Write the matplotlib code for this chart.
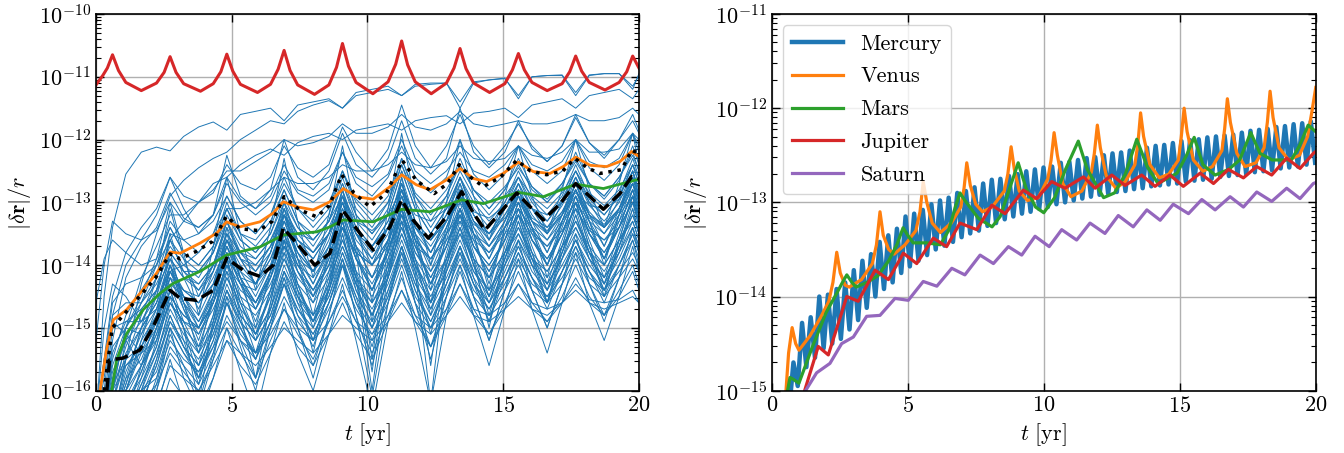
import numpy as np
import matplotlib
matplotlib.use('Agg')
import matplotlib.pyplot as plt

plt.rcParams['font.family'] = 'serif'
plt.rcParams['font.serif'] = ['cmr10']
plt.rcParams['mathtext.fontset'] = 'cm'
plt.rcParams['axes.formatter.use_mathtext'] = True
plt.rcParams['axes.unicode_minus'] = True

# ---- left panel: log10 |dr|/r ----
# common sampling times of the thin blue runs (peaks, sides, troughs)
grid_t = [0.0, 0.3, 0.61, 1.1, 1.67, 2.23, 2.73, 3.23, 3.78, 4.32, 4.82, 5.32,
          5.88, 6.43, 6.93, 7.43, 8.0, 8.58, 9.08, 9.58, 10.17, 10.76, 11.26,
          11.76, 12.33, 12.91, 13.41, 13.91, 14.48, 15.06, 15.56, 16.06, 16.62,
          17.17, 17.67, 18.17, 18.72, 19.27, 19.77, 20.0]

blue_runs = [
    [-16.5, -15.5, -14.5, -13.8, -13.4, -13.1, -12.6, -12.9, -13.0, -12.85, -12.4, -12.7, -12.8, -12.6, -12.1, -12.45, -12.6, -12.4, -11.8, -12.2, -12.5, -12.15, -11.45, -12.1, -12.45, -12.1, -11.6, -12.1, -12.4, -12.1, -11.75, -12.1, -12.35, -12.1, -11.65, -12.05, -12.3, -12.0, -11.6, -11.85],
    [-15.2, -14.0, -13.3, -13.5, -13.6, -13.45, -13.0, -13.3, -13.4, -13.2, -12.6, -12.95, -13.1, -12.9, -12.4, -12.8, -12.9, -12.7, -12.2, -12.6, -12.75, -12.55, -12.0, -12.5, -12.7, -12.5, -12.2, -12.5, -12.6, -12.4, -12.1, -12.4, -12.5, -12.35, -12.0, -12.35, -12.45, -12.3, -11.9, -12.1],
    [-16.5, -16.5, -15.2, -14.2, -13.7, -13.4, -12.85, -13.25, -13.4, -13.2, -12.7, -13.0, -13.2, -13.0, -12.5, -12.85, -13.0, -12.8, -12.2, -12.7, -12.9, -12.6, -12.1, -12.6, -12.85, -12.6, -12.0, -12.55, -12.8, -12.55, -12.1, -12.5, -12.7, -12.5, -12.0, -12.45, -12.65, -12.4, -11.9, -12.2],
    [-16.5, -16.0, -14.8, -14.0, -13.6, -13.2, -12.6, -13.1, -13.5, -13.3, -12.9, -13.3, -13.5, -13.2, -12.6, -13.1, -13.4, -13.1, -12.5, -13.0, -13.3, -13.0, -12.4, -12.9, -13.2, -12.9, -12.3, -12.8, -13.1, -12.8, -12.3, -12.75, -13.0, -12.75, -12.2, -12.7, -12.95, -12.65, -12.1, -12.4],
    [-16.5, -16.5, -16.0, -15.0, -14.2, -13.7, -13.2, -13.2, -13.0, -12.8, -12.5, -12.5, -12.35, -12.2, -12.0, -12.1, -12.05, -11.95, -11.75, -11.9, -11.9, -11.8, -11.6, -11.8, -11.85, -11.75, -11.55, -11.75, -11.8, -11.75, -11.7, -11.75, -11.75, -11.7, -11.6, -11.7, -11.7, -11.65, -11.5, -11.6],
    [-16.5, -16.5, -16.5, -15.5, -14.8, -14.2, -13.5, -13.6, -13.5, -13.2, -12.25, -12.9, -13.1, -12.8, -12.0, -12.6, -12.8, -12.5, -11.9, -12.4, -12.6, -12.3, -11.7, -12.3, -12.55, -12.3, -11.5, -12.2, -12.45, -12.2, -11.7, -12.15, -12.35, -12.1, -11.6, -12.05, -12.25, -12.0, -11.7, -11.9],
    [-16.5, -16.5, -15.5, -14.8, -14.4, -14.0, -13.4, -13.8, -14.0, -13.7, -13.0, -13.5, -13.7, -13.4, -12.8, -13.3, -13.6, -13.3, -12.6, -13.2, -13.5, -13.1, -12.4, -13.0, -13.4, -13.0, -12.5, -12.9, -13.2, -12.9, -12.6, -12.9, -13.1, -12.85, -12.5, -12.85, -13.05, -12.8, -12.4, -12.6],
    [-16.5, -16.2, -15.0, -14.9, -14.9, -14.4, -13.6, -14.1, -14.4, -14.0, -13.3, -13.8, -14.1, -13.7, -13.0, -13.6, -13.9, -13.5, -12.8, -13.4, -13.7, -13.3, -12.7, -13.3, -13.6, -13.2, -12.6, -13.2, -13.5, -13.1, -12.7, -13.1, -13.3, -13.0, -12.6, -13.0, -13.2, -12.9, -12.5, -12.8],
    [-16.5, -16.5, -15.8, -15.2, -15.6, -14.8, -13.8, -14.6, -15.4, -14.5, -13.4, -14.2, -15.0, -14.1, -13.1, -13.9, -14.8, -13.8, -12.8, -13.8, -15.5, -13.7, -12.6, -13.6, -14.6, -13.5, -12.7, -13.5, -14.4, -13.4, -12.8, -13.4, -14.2, -13.3, -12.7, -13.3, -14.0, -13.2, -12.5, -12.9],
    [-16.5, -16.5, -16.2, -15.4, -15.0, -14.6, -14.0, -14.4, -14.6, -14.3, -13.6, -14.0, -14.3, -13.9, -13.3, -13.8, -14.1, -13.7, -13.0, -13.6, -13.9, -13.5, -12.9, -13.5, -13.8, -13.4, -12.9, -13.4, -13.7, -13.3, -12.9, -13.3, -13.5, -13.2, -12.8, -13.2, -13.4, -13.1, -12.7, -13.0],
    [-16.5, -16.5, -16.5, -15.8, -15.5, -14.9, -14.2, -14.7, -15.1, -14.6, -13.8, -14.3, -14.7, -14.2, -13.5, -14.1, -14.5, -14.0, -13.2, -13.9, -14.4, -13.8, -13.0, -13.7, -14.2, -13.7, -13.1, -13.7, -14.1, -13.6, -13.0, -13.6, -14.0, -13.5, -12.9, -13.5, -13.9, -13.4, -12.8, -13.2],
    [-16.5, -16.5, -16.5, -16.0, -15.6, -15.0, -14.4, -15.0, -16.2, -14.9, -13.9, -14.8, -15.8, -14.6, -13.6, -14.4, -15.4, -14.3, -13.3, -14.2, -16.0, -14.1, -13.1, -14.0, -15.6, -13.9, -13.2, -13.9, -15.0, -13.8, -13.2, -13.8, -14.6, -13.7, -13.0, -13.7, -14.5, -13.6, -12.9, -13.4],
    [-16.5, -16.5, -16.5, -16.5, -16.2, -15.6, -14.8, -15.3, -15.6, -15.1, -14.4, -14.9, -15.2, -14.8, -14.1, -14.6, -14.9, -14.5, -13.8, -14.4, -14.8, -14.3, -13.7, -14.3, -14.7, -14.2, -13.7, -14.2, -14.6, -14.1, -13.6, -14.1, -14.4, -14.0, -13.6, -14.0, -14.3, -13.9, -13.4, -13.7],
    [-16.5, -16.5, -16.5, -16.5, -16.0, -15.8, -15.2, -15.5, -15.7, -15.3, -14.9, -15.2, -15.4, -15.1, -14.7, -15.0, -15.2, -14.9, -14.5, -14.9, -15.1, -14.8, -14.4, -14.8, -15.0, -14.7, -14.3, -14.7, -14.8, -14.6, -14.3, -14.6, -14.7, -14.6, -14.3, -14.55, -14.6, -14.55, -14.4, -14.6],
    [-16.5, -16.5, -16.0, -15.3, -14.7, -14.4, -13.9, -14.2, -14.3, -14.0, -13.5, -13.8, -13.9, -13.6, -13.2, -13.5, -13.6, -13.3, -12.9, -13.3, -13.45, -13.2, -12.8, -13.2, -13.3, -13.1, -12.9, -13.15, -13.25, -13.05, -12.9, -13.1, -13.2, -13.0, -12.85, -13.05, -13.1, -12.95, -12.7, -12.9],
    [-16.5, -16.5, -16.5, -15.6, -15.3, -14.7, -14.0, -14.6, -15.2, -14.5, -13.7, -14.3, -14.9, -14.2, -13.4, -14.1, -14.6, -13.9, -13.1, -13.8, -14.4, -13.7, -12.9, -13.6, -14.3, -13.6, -12.9, -13.6, -14.2, -13.5, -12.9, -13.5, -14.0, -13.4, -12.8, -13.4, -13.9, -13.3, -12.7, -13.1],
    [-16.5, -16.5, -16.5, -16.5, -16.5, -15.9, -15.0, -15.8, -16.3, -15.5, -14.5, -15.3, -16.0, -15.0, -14.2, -15.0, -15.8, -14.8, -13.9, -14.8, -15.6, -14.6, -13.7, -14.6, -15.5, -14.5, -13.7, -14.5, -15.2, -14.4, -13.6, -14.4, -15.0, -14.3, -13.5, -14.3, -14.8, -14.2, -13.4, -13.8],
    [-16.5, -16.5, -15.6, -15.0, -14.6, -14.2, -13.7, -14.0, -14.2, -13.8, -13.2, -13.6, -13.8, -13.5, -13.0, -13.4, -13.6, -13.3, -12.7, -13.2, -13.5, -13.2, -12.5, -13.1, -13.5, -13.1, -12.6, -13.0, -13.3, -13.0, -12.5, -12.95, -13.2, -12.9, -12.4, -12.9, -13.1, -12.85, -12.3, -12.6],
    [-16.5, -16.5, -16.5, -15.8, -15.0, -14.2, -13.1, -13.9, -14.5, -14.0, -13.3, -13.9, -14.3, -13.8, -13.1, -13.7, -14.1, -13.6, -12.9, -13.5, -13.9, -13.4, -12.8, -13.4, -13.8, -13.3, -12.8, -13.3, -13.7, -13.3, -12.8, -13.3, -13.6, -13.2, -12.7, -13.2, -13.5, -13.1, -12.6, -12.9],
    [-16.5, -16.5, -16.5, -16.5, -15.6, -15.1, -14.6, -15.0, -15.3, -14.9, -14.2, -14.7, -15.0, -14.5, -13.9, -14.4, -14.8, -14.3, -13.6, -14.2, -14.6, -14.1, -13.4, -14.0, -14.5, -14.0, -13.4, -14.0, -14.4, -13.9, -13.4, -13.9, -14.2, -13.8, -13.3, -13.8, -14.1, -13.7, -13.2, -13.5],
    [-16.5, -15.8, -14.8, -14.6, -14.6, -14.3, -13.8, -14.1, -14.1, -13.8, -13.1, -13.5, -13.6, -13.3, -12.8, -13.3, -13.5, -13.2, -12.5, -13.1, -13.4, -13.0, -12.3, -12.9, -13.3, -12.9, -12.4, -12.8, -13.1, -12.8, -12.4, -12.8, -13.0, -12.7, -12.3, -12.7, -12.9, -12.6, -12.2, -12.5],
    [-16.5, -16.5, -16.5, -16.2, -15.8, -15.3, -14.5, -15.2, -15.9, -15.0, -14.1, -14.9, -15.5, -14.7, -13.8, -14.6, -15.2, -14.4, -13.5, -14.4, -15.0, -14.2, -13.3, -14.2, -15.1, -14.1, -13.4, -14.2, -14.9, -14.0, -13.3, -14.0, -14.6, -13.9, -13.2, -13.9, -14.4, -13.8, -13.1, -13.5],
    [-14.6, -13.9, -13.6, -13.8, -14.0, -13.9, -13.4, -13.8, -14.0, -13.7, -13.1, -13.6, -13.8, -13.5, -12.9, -13.4, -13.7, -13.3, -12.7, -13.3, -13.6, -13.2, -12.5, -13.1, -13.5, -13.1, -12.6, -13.1, -13.4, -13.0, -12.6, -13.0, -13.3, -12.95, -12.5, -12.95, -13.2, -12.9, -12.4, -12.7],
    [-16.5, -15.0, -14.3, -14.5, -14.9, -14.7, -14.2, -14.6, -14.9, -14.5, -13.8, -14.3, -14.6, -14.2, -13.5, -14.0, -14.4, -14.0, -13.3, -13.9, -14.3, -13.8, -13.1, -13.8, -14.2, -13.7, -13.1, -13.7, -14.0, -13.6, -13.0, -13.6, -13.9, -13.5, -12.9, -13.5, -13.8, -13.4, -12.8, -13.1],
    [-16.5, -16.5, -16.5, -16.5, -16.5, -16.3, -15.5, -16.2, -16.5, -15.8, -15.0, -15.7, -16.4, -15.4, -14.6, -15.4, -16.0, -15.1, -14.3, -15.2, -16.3, -14.9, -14.1, -15.0, -16.2, -14.8, -14.0, -14.8, -15.6, -14.7, -13.9, -14.7, -15.4, -14.6, -13.8, -14.6, -15.2, -14.5, -13.7, -14.1],
    [-16.5, -16.5, -16.5, -15.9, -15.2, -14.8, -14.3, -14.5, -14.6, -14.3, -13.9, -14.2, -14.3, -14.0, -13.6, -13.9, -14.1, -13.8, -13.4, -13.8, -14.0, -13.7, -13.3, -13.7, -13.9, -13.6, -13.3, -13.6, -13.8, -13.5, -13.2, -13.5, -13.7, -13.45, -13.1, -13.45, -13.6, -13.4, -13.0, -13.2],
    [-16.5, -16.5, -16.5, -16.0, -15.4, -14.8, -14.1, -14.0, -13.8, -13.5, -13.1, -13.1, -13.0, -12.8, -12.6, -12.7, -12.7, -12.6, -12.4, -12.5, -12.5, -12.4, -12.2, -12.4, -12.45, -12.35, -12.1, -12.3, -12.35, -12.3, -12.1, -12.25, -12.3, -12.2, -12.0, -12.2, -12.2, -12.15, -11.9, -12.0],
    [-16.5, -16.5, -16.5, -16.5, -16.3, -15.5, -14.6, -14.9, -15.0, -14.6, -14.0, -14.3, -14.4, -14.0, -13.7, -14.0, -14.2, -13.8, -13.4, -13.8, -14.0, -13.6, -13.2, -13.6, -13.9, -13.5, -13.2, -13.5, -13.7, -13.4, -13.1, -13.4, -13.6, -13.3, -13.0, -13.3, -13.5, -13.2, -12.9, -13.1],
    [-16.5, -16.5, -16.5, -16.5, -16.5, -16.2, -15.6, -15.8, -16.0, -15.6, -15.2, -15.4, -15.6, -15.3, -15.0, -15.2, -15.4, -15.1, -14.8, -15.0, -15.2, -14.9, -14.6, -14.9, -15.1, -14.8, -14.5, -14.8, -14.9, -14.7, -14.5, -14.7, -14.8, -14.6, -14.4, -14.6, -14.7, -14.6, -14.5, -14.6],
    [-16.5, -16.5, -16.5, -16.3, -16.0, -15.4, -14.7, -15.1, -15.4, -15.0, -14.3, -14.8, -15.1, -14.7, -14.0, -14.5, -14.9, -14.4, -13.7, -14.3, -14.7, -14.2, -13.5, -14.1, -14.6, -14.1, -13.5, -14.1, -14.5, -14.0, -13.5, -14.0, -14.3, -13.9, -13.4, -13.9, -14.2, -13.8, -13.3, -13.6],
    [-16.5, -16.5, -16.0, -15.0, -14.5, -13.9, -13.0, -13.8, -14.8, -13.7, -12.6, -13.5, -14.4, -13.4, -12.3, -13.3, -14.2, -13.2, -12.1, -13.2, -14.6, -13.1, -11.9, -13.0, -14.0, -13.0, -12.0, -12.9, -13.6, -12.9, -12.1, -12.9, -13.5, -12.8, -12.0, -12.8, -13.4, -12.7, -11.9, -12.4],
    [-16.5, -16.5, -16.5, -16.5, -16.0, -15.7, -15.0, -15.4, -15.7, -15.2, -14.6, -15.1, -15.4, -14.9, -14.3, -14.8, -15.1, -14.6, -14.0, -14.6, -15.0, -14.5, -13.9, -14.5, -14.9, -14.4, -13.9, -14.4, -14.7, -14.3, -13.9, -14.3, -14.5, -14.2, -13.8, -14.2, -14.4, -14.1, -13.8, -14.0],
    [-16.5, -16.5, -16.5, -16.0, -15.2, -14.4, -13.6, -13.3, -13.0, -12.7, -12.6, -12.4, -12.25, -12.15, -12.25, -12.05, -11.95, -11.9, -12.0, -11.85, -11.8, -11.75, -11.85, -11.7, -11.65, -11.62, -11.75, -11.58, -11.55, -11.5, -11.65, -11.45, -11.4, -11.35, -11.5, -11.3, -11.25, -11.2, -11.35, -11.2],
    [-16.5, -16.5, -16.5, -15.5, -14.3, -13.5, -12.9, -12.65, -12.45, -12.3, -12.2, -12.0, -11.85, -11.7, -11.75, -11.55, -11.45, -11.38, -11.5, -11.3, -11.25, -11.2, -11.3, -11.15, -11.12, -11.1, -11.4, -11.08, -11.05, -11.03, -11.3, -11.0, -10.98, -10.97, -11.25, -10.97, -10.95, -10.95, -11.15, -10.98],
    [-16.5, -14.5, -13.4, -12.55, -12.2, -12.12, -12.18, -11.95, -11.8, -11.72, -11.85, -11.6, -11.55, -11.5, -11.7, -11.45, -11.4, -11.35, -11.5, -11.25, -11.2, -11.15, -11.3, -11.12, -11.1, -11.1, -11.5, -11.1, -11.05, -11.02, -11.35, -11.0, -10.98, -10.98, -11.3, -10.98, -10.95, -10.95, -11.2, -10.95],
    [-16.5, -16.5, -15.9, -15.5, -15.3, -14.9, -14.1, -14.5, -14.8, -14.3, -13.6, -14.1, -14.5, -14.0, -13.2, -13.8, -14.3, -13.7, -13.0, -13.7, -14.2, -13.6, -12.8, -13.5, -14.1, -13.5, -12.8, -13.4, -13.9, -13.3, -12.7, -13.3, -13.8, -13.2, -12.6, -13.2, -13.7, -13.1, -12.5, -12.9],
    [-16.5, -16.5, -16.5, -16.2, -15.7, -15.0, -14.2, -14.4, -14.5, -14.1, -13.6, -13.9, -14.0, -13.7, -13.3, -13.6, -13.8, -13.5, -13.1, -13.5, -13.7, -13.4, -12.9, -13.4, -13.6, -13.3, -12.9, -13.3, -13.5, -13.2, -12.9, -13.25, -13.4, -13.15, -12.8, -13.2, -13.35, -13.1, -12.7, -12.95],
    [-16.5, -16.5, -16.5, -16.5, -16.0, -15.2, -14.4, -15.0, -15.6, -14.8, -13.9, -14.6, -15.2, -14.4, -13.6, -14.3, -14.9, -14.1, -13.3, -14.1, -15.7, -13.9, -13.1, -13.9, -14.8, -13.8, -13.1, -13.8, -14.5, -13.7, -13.1, -13.7, -14.3, -13.6, -13.0, -13.6, -14.2, -13.5, -12.9, -13.3],
    [-16.5, -15.5, -14.9, -15.1, -15.4, -15.0, -14.5, -14.8, -15.0, -14.6, -14.1, -14.5, -14.7, -14.3, -13.8, -14.2, -14.5, -14.1, -13.6, -14.1, -14.4, -13.9, -13.4, -13.9, -14.3, -13.9, -13.4, -13.9, -14.2, -13.8, -13.4, -13.8, -14.1, -13.7, -13.3, -13.7, -14.0, -13.6, -13.2, -13.5],
    [-16.5, -16.5, -16.5, -16.5, -16.5, -16.0, -15.3, -15.6, -15.9, -15.4, -14.8, -15.2, -15.5, -15.0, -14.5, -14.9, -15.2, -14.7, -14.2, -14.7, -15.1, -14.6, -14.0, -14.6, -15.0, -14.5, -14.0, -14.5, -14.8, -14.4, -14.0, -14.4, -14.6, -14.3, -13.9, -14.3, -14.5, -14.2, -13.9, -14.1],
    [-16.5, -16.5, -16.2, -15.2, -14.6, -14.0, -13.3, -13.6, -13.8, -13.5, -12.9, -13.3, -13.5, -13.2, -12.7, -13.1, -13.3, -13.0, -12.5, -12.95, -13.2, -12.9, -12.3, -12.85, -13.1, -12.8, -12.4, -12.8, -13.0, -12.75, -12.45, -12.75, -12.95, -12.7, -12.35, -12.7, -12.9, -12.6, -12.25, -12.5],
    [-16.5, -16.5, -15.4, -14.9, -14.7, -14.4, -13.9, -14.2, -14.4, -14.1, -13.5, -13.9, -14.1, -13.8, -13.2, -13.7, -13.9, -13.5, -13.0, -13.5, -13.8, -13.4, -12.8, -13.4, -13.7, -13.3, -12.8, -13.3, -13.6, -13.2, -12.8, -13.2, -13.5, -13.15, -12.7, -13.15, -13.4, -13.1, -12.6, -12.9],
    [-16.5, -16.5, -16.5, -16.1, -15.6, -15.2, -14.6, -14.9, -15.1, -14.7, -14.2, -14.6, -14.8, -14.4, -13.9, -14.3, -14.6, -14.2, -13.7, -14.2, -14.5, -14.0, -13.5, -14.0, -14.4, -13.9, -13.5, -13.9, -14.2, -13.8, -13.5, -13.9, -14.1, -13.7, -13.4, -13.8, -14.0, -13.6, -13.3, -13.6],
    [-16.5, -16.5, -16.5, -15.9, -15.0, -14.6, -13.9, -14.5, -15.0, -14.4, -13.5, -14.2, -14.7, -14.1, -13.2, -13.9, -14.5, -13.8, -12.9, -13.7, -14.9, -13.6, -12.7, -13.5, -14.4, -13.4, -12.8, -13.5, -14.3, -13.4, -12.9, -13.4, -14.0, -13.3, -12.8, -13.3, -13.9, -13.2, -12.6, -13.0],
    [-16.5, -16.5, -16.5, -16.5, -16.1, -15.5, -14.9, -15.2, -15.5, -15.0, -14.4, -14.8, -15.1, -14.7, -14.1, -14.5, -14.8, -14.4, -13.8, -14.3, -14.6, -14.2, -13.6, -14.2, -14.6, -14.1, -13.6, -14.1, -14.4, -14.0, -13.6, -14.0, -14.3, -13.9, -13.5, -13.9, -14.2, -13.8, -13.4, -13.7],
    [-16.5, -16.3, -15.3, -15.0, -15.1, -14.7, -14.0, -14.5, -14.9, -14.4, -13.7, -14.2, -14.6, -14.1, -13.4, -14.0, -14.4, -13.9, -13.2, -13.9, -14.4, -13.8, -13.0, -13.7, -14.3, -13.7, -13.0, -13.7, -14.1, -13.6, -13.0, -13.6, -14.0, -13.5, -12.9, -13.5, -13.9, -13.4, -12.8, -13.2],
    [-16.5, -16.5, -16.5, -16.5, -15.9, -15.3, -14.5, -14.8, -15.0, -14.6, -14.0, -14.4, -14.6, -14.2, -13.7, -14.1, -14.4, -14.0, -13.4, -13.9, -14.2, -13.8, -13.2, -13.8, -14.1, -13.7, -13.2, -13.7, -14.0, -13.6, -13.2, -13.6, -13.9, -13.5, -13.1, -13.5, -13.8, -13.4, -13.0, -13.3],
    [-16.5, -16.5, -16.0, -15.6, -15.4, -15.2, -14.4, -15.0, -15.8, -14.9, -14.0, -14.7, -15.4, -14.6, -13.7, -14.5, -15.2, -14.4, -13.5, -14.3, -15.0, -14.2, -13.3, -14.1, -16.2, -14.0, -13.3, -14.0, -14.8, -13.9, -13.3, -13.9, -14.6, -13.8, -13.2, -13.8, -14.4, -13.7, -13.1, -13.5],
    [-16.5, -16.5, -16.5, -16.4, -15.9, -15.4, -14.8, -15.3, -15.8, -15.2, -14.4, -15.0, -15.5, -14.9, -14.1, -14.8, -15.3, -14.6, -13.9, -14.6, -15.2, -14.5, -13.7, -14.4, -15.0, -14.3, -13.7, -14.3, -14.9, -14.2, -13.7, -14.2, -14.7, -14.1, -13.6, -14.1, -14.6, -14.0, -13.5, -13.8],
    [-16.5, -16.5, -16.5, -15.7, -15.1, -14.5, -13.5, -14.2, -14.7, -14.1, -13.3, -13.9, -14.3, -13.8, -13.0, -13.7, -14.1, -13.5, -12.8, -13.5, -14.0, -13.4, -12.6, -13.3, -13.8, -13.3, -12.6, -13.2, -13.6, -13.1, -12.6, -13.1, -13.5, -13.0, -12.5, -13.0, -13.4, -12.95, -12.4, -12.7],
    [-16.5, -16.5, -16.5, -16.5, -16.5, -15.8, -15.0, -15.4, -15.8, -15.3, -14.6, -15.0, -15.4, -14.9, -14.3, -14.7, -15.1, -14.6, -14.0, -14.5, -15.3, -14.4, -13.8, -14.4, -14.9, -14.3, -13.8, -14.3, -14.7, -14.2, -13.8, -14.2, -14.6, -14.1, -13.7, -14.1, -14.5, -14.0, -13.6, -13.9],
    [-16.5, -15.6, -14.6, -14.3, -14.2, -14.0, -13.6, -13.9, -14.1, -13.8, -13.3, -13.7, -13.9, -13.6, -13.1, -13.5, -13.8, -13.4, -12.9, -13.4, -13.7, -13.3, -12.7, -13.3, -13.6, -13.2, -12.7, -13.2, -13.5, -13.1, -12.7, -13.1, -13.4, -13.05, -12.6, -13.05, -13.3, -13.0, -12.5, -12.8],
    [-16.5, -16.5, -16.5, -16.5, -16.2, -15.9, -15.4, -15.7, -16.0, -15.5, -15.0, -15.4, -15.8, -15.2, -14.7, -15.1, -15.5, -14.9, -14.4, -14.9, -15.4, -14.8, -14.2, -14.8, -15.3, -14.7, -14.1, -14.7, -15.1, -14.6, -14.1, -14.6, -14.9, -14.5, -14.0, -14.5, -14.8, -14.4, -14.0, -14.3],
    [-16.5, -16.5, -16.5, -16.0, -15.3, -14.8, -14.1, -14.6, -15.0, -14.5, -13.6, -14.2, -14.6, -14.1, -13.3, -13.9, -14.3, -13.8, -13.0, -13.7, -14.2, -13.6, -12.8, -13.5, -14.0, -13.4, -12.9, -13.5, -13.9, -13.4, -12.9, -13.4, -13.8, -13.3, -12.8, -13.3, -13.7, -13.2, -12.7, -13.0],
    [-16.5, -16.5, -16.5, -16.5, -16.5, -16.0, -15.1, -15.6, -16.2, -15.4, -14.6, -15.2, -15.8, -15.0, -14.3, -15.0, -15.6, -14.8, -14.0, -14.8, -16.1, -14.6, -13.8, -14.6, -15.3, -14.5, -13.8, -14.5, -15.2, -14.4, -13.8, -14.4, -15.0, -14.3, -13.7, -14.3, -14.9, -14.2, -13.6, -14.0],
    [-16.5, -16.5, -16.2, -15.5, -15.0, -14.6, -14.1, -14.4, -14.6, -14.2, -13.7, -14.1, -14.3, -13.9, -13.4, -13.8, -14.1, -13.7, -13.2, -13.7, -14.0, -13.6, -13.1, -13.6, -13.9, -13.5, -13.1, -13.5, -13.8, -13.4, -13.1, -13.45, -13.7, -13.35, -13.0, -13.4, -13.6, -13.3, -12.9, -13.2],
    [-16.5, -16.5, -16.5, -16.5, -15.8, -15.0, -14.0, -14.7, -15.3, -14.6, -13.8, -14.5, -15.1, -14.4, -13.5, -14.3, -15.0, -14.2, -13.3, -14.1, -14.8, -14.0, -13.1, -13.9, -14.6, -13.9, -13.1, -13.9, -14.5, -13.8, -13.1, -13.8, -14.4, -13.7, -13.0, -13.7, -14.3, -13.6, -12.9, -13.3],
    [-16.5, -16.5, -16.5, -16.5, -16.5, -16.5, -15.8, -16.1, -16.3, -15.8, -15.2, -15.6, -15.9, -15.4, -14.9, -15.3, -15.6, -15.1, -14.6, -15.1, -15.5, -14.9, -14.4, -14.9, -15.3, -14.8, -14.3, -14.8, -15.1, -14.7, -14.3, -14.7, -14.9, -14.6, -14.2, -14.6, -14.8, -14.5, -14.1, -14.4],
    [-16.5, -16.5, -15.7, -15.2, -14.9, -14.5, -13.8, -14.1, -14.3, -14.0, -13.4, -13.8, -14.0, -13.7, -13.2, -13.6, -13.8, -13.5, -13.0, -13.5, -13.7, -13.4, -12.9, -13.4, -13.6, -13.3, -13.0, -13.35, -13.5, -13.25, -13.0, -13.3, -13.45, -13.2, -12.9, -13.25, -13.4, -13.15, -12.8, -13.05],
    [-16.5, -16.5, -16.5, -16.5, -16.2, -15.6, -14.9, -15.3, -15.6, -15.1, -14.5, -14.9, -15.2, -14.8, -14.2, -14.7, -15.0, -14.5, -13.9, -14.5, -14.9, -14.4, -13.7, -14.3, -14.8, -14.3, -13.7, -14.3, -14.6, -14.2, -13.7, -14.2, -14.5, -14.1, -13.6, -14.1, -14.4, -14.0, -13.5, -13.8],
    [-16.5, -16.5, -16.5, -16.3, -15.7, -15.1, -14.3, -14.9, -15.4, -14.8, -13.9, -14.6, -15.1, -14.5, -13.6, -14.4, -14.9, -14.3, -13.4, -14.2, -14.8, -14.1, -13.2, -14.0, -14.7, -14.0, -13.2, -14.0, -14.6, -13.9, -13.2, -13.9, -14.4, -13.8, -13.1, -13.8, -14.3, -13.7, -13.0, -13.4],
]

red_t = [0.0, 0.25, 0.42, 0.61, 0.83, 1.1, 1.67, 2.23, 2.51, 2.73, 2.95, 3.23, 3.85,
         4.32, 4.6, 4.82, 5.04, 5.32, 5.95, 6.43, 6.71, 6.93, 7.15, 7.43, 8.05, 8.58,
         8.86, 9.08, 9.3, 9.58, 10.2, 10.76, 11.04, 11.26, 11.48, 11.76, 12.35, 12.91,
         13.19, 13.41, 13.63, 13.91, 14.5, 15.06, 15.34, 15.56, 15.78, 16.06, 16.62,
         17.17, 17.45, 17.67, 17.89, 18.17, 18.75, 19.27, 19.55, 19.77, 20.0]
red_v = [-11.13, -10.98, -10.86, -10.65, -10.9, -11.09, -11.22, -11.1, -10.93, -10.68,
         -10.93, -11.11, -11.23, -11.11, -10.92, -10.64, -10.91, -11.12, -11.25, -11.12,
         -10.88, -10.58, -10.9, -11.13, -11.28, -11.13, -10.85, -10.47, -10.83, -11.09,
         -11.27, -11.08, -10.8, -10.43, -10.81, -11.08, -11.27, -11.1, -10.86, -10.55,
         -10.87, -11.1, -11.25, -11.11, -10.89, -10.63, -10.89, -11.09, -11.22, -11.11,
         -10.92, -10.67, -10.91, -11.09, -11.21, -11.09, -10.92, -10.67, -10.86]

orange_t = [0.15, 0.39, 0.64, 1.13, 1.62, 2.23, 2.73, 3.1, 3.83, 4.45, 4.81, 5.3, 6.04,
            6.53, 6.9, 7.39, 8.0, 8.62, 9.11, 9.6, 10.21, 10.83, 11.26, 11.8, 12.3, 12.92,
            13.41, 13.9, 14.39, 15.0, 15.56, 16.11, 16.72, 17.21, 17.67, 18.2, 18.81,
            19.3, 19.73, 20.0]
orange_v = [-16.0, -15.35, -14.87, -14.71, -14.45, -14.13, -13.79, -13.81, -13.65, -13.49,
            -13.31, -13.39, -13.31, -13.17, -12.99, -13.07, -13.12, -12.99, -12.78, -12.91,
            -12.95, -12.75, -12.56, -12.72, -12.8, -12.64, -12.46, -12.62, -12.67, -12.54,
            -12.36, -12.51, -12.54, -12.43, -12.28, -12.41, -12.43, -12.35, -12.19, -12.27]

green_t = [0.58, 0.76, 1.13, 1.74, 2.36, 2.85, 3.83, 4.81, 6.04, 6.9, 8.13, 8.62, 9.11,
           10.21, 11.26, 12.3, 13.47, 14.27, 15.56, 16.48, 17.67, 18.69, 19.92, 20.0]
green_v = [-16.0, -15.51, -15.09, -14.71, -14.45, -14.29, -14.1, -13.84, -13.71, -13.52,
           -13.47, -13.39, -13.28, -13.31, -13.11, -13.15, -12.96, -13.02, -12.84, -12.91,
           -12.71, -12.78, -12.64, -12.65]

dashed_t = [0.4, 0.5, 1.0, 1.62, 2.11, 2.73, 3.1, 3.71, 4.32, 4.81, 5.42, 6.04, 6.53,
            6.9, 7.51, 8.06, 8.62, 9.08, 9.72, 10.21, 10.83, 11.26, 11.68, 12.24, 12.92,
            13.47, 13.9, 14.33, 14.88, 15.5, 15.99, 16.48, 17.1, 17.67, 18.2, 18.69,
            19.3, 19.73, 20.0]
dashed_v = [-16.0, -15.51, -15.48, -15.35, -14.98, -14.4, -14.53, -14.56, -14.4, -13.89,
            -14.08, -14.18, -14.0, -13.41, -13.71, -14.0, -13.81, -13.12, -13.49, -13.76,
            -13.39, -12.96, -13.28, -13.57, -13.23, -12.83, -13.17, -13.44, -13.17, -12.85,
            -13.07, -13.28, -13.02, -12.7, -12.91, -13.11, -12.86, -12.59, -12.62]

dotted_t = [0.3, 0.6, 1.1, 1.6, 2.2, 2.73, 3.1, 3.7, 4.3, 4.81, 5.3, 6.0, 6.5, 6.93,
            7.5, 8.13, 8.6, 9.05, 9.5, 10.09, 10.7, 11.28, 11.8, 12.46, 12.95, 13.38,
            13.8, 14.27, 14.9, 15.5, 16.0, 16.6, 17.2, 17.64, 18.1, 18.56, 19.36, 19.73, 20.0]
dotted_v = [-16.0, -15.0, -14.75, -14.5, -14.2, -13.82, -13.9, -13.78, -13.62, -13.22,
            -13.42, -13.45, -13.3, -12.91, -13.12, -13.23, -13.05, -12.56, -12.85, -13.07,
            -12.85, -12.33, -12.65, -12.86, -12.7, -12.4, -12.6, -12.75, -12.6, -12.33,
            -12.5, -12.56, -12.5, -12.3, -12.45, -12.54, -12.48, -12.17, -12.22]

# ---- right panel: per planet ----
# Mercury: alternating minima / maxima on a half synodic period
mercury_lo = [-15.20, -14.95, -14.75, -14.65, -14.55, -14.50, -14.45, -14.35, -14.25, -14.12,
              -14.00, -13.92, -13.85, -13.75, -13.68, -13.62, -13.56, -13.50, -13.46, -13.42,
              -13.37, -13.33, -13.30, -13.25, -13.22, -13.18, -13.15, -13.12, -13.10, -13.07,
              -13.05, -13.02, -13.00, -12.98, -12.96, -12.94, -12.92, -12.91, -12.89, -12.88,
              -12.86, -12.85, -12.83, -12.82, -12.81, -12.80, -12.78, -12.77, -12.76, -12.75,
              -12.73, -12.72, -12.71, -12.70, -12.68, -12.67, -12.66, -12.64, -12.63, -12.62,
              -12.60, -12.58]
mercury_hi = [-14.70, -14.28, -14.22, -14.00, -13.98, -13.92, -13.85, -13.72, -13.62, -13.55,
              -13.42, -13.35, -13.28, -13.15, -13.12, -13.08, -13.02, -12.98, -12.95, -12.90,
              -12.88, -12.84, -12.80, -12.76, -12.75, -12.72, -12.70, -12.67, -12.65, -12.63,
              -12.62, -12.58, -12.57, -12.55, -12.53, -12.52, -12.50, -12.48, -12.47, -12.45,
              -12.44, -12.42, -12.40, -12.39, -12.37, -12.35, -12.34, -12.33, -12.31, -12.30,
              -12.29, -12.28, -12.26, -12.24, -12.23, -12.22, -12.20, -12.19, -12.17, -12.16,
              -12.14]
mercury_t0, mercury_step = 0.64, 0.1585

venus_t = [0.5, 0.62, 0.75, 0.88, 1.0, 1.4, 1.8, 2.1, 2.25, 2.39, 2.52, 2.7, 2.85, 3.3,
           3.7, 3.85, 3.98, 4.1, 4.3, 4.5, 4.9, 5.3, 5.45, 5.57, 5.7, 5.9, 6.2, 6.6, 6.95,
           7.07, 7.17, 7.3, 7.5, 7.75, 8.1, 8.55, 8.68, 8.8, 8.92, 9.1, 9.4, 9.8, 10.15,
           10.27, 10.38, 10.5, 10.7, 11.0, 11.4, 11.75, 11.86, 11.97, 12.08, 12.3, 12.65,
           13.0, 13.35, 13.46, 13.56, 13.67, 13.9, 14.25, 14.6, 14.95, 15.05, 15.16, 15.27,
           15.5, 15.85, 16.2, 16.55, 16.65, 16.75, 16.86, 17.1, 17.4, 17.8, 18.1, 18.22,
           18.32, 18.43, 18.65, 19.0, 19.4, 19.7, 19.85, 20.0]
venus_v = [-15.1, -14.6, -14.33, -14.5, -14.57, -14.42, -14.22, -14.05, -13.85, -13.53,
           -13.75, -13.88, -13.9, -13.82, -13.65, -13.45, -13.1, -13.35, -13.5, -13.55,
           -13.45, -13.3, -13.1, -12.78, -13.0, -13.22, -13.32, -13.22, -13.05, -12.85,
           -12.58, -12.82, -13.02, -13.1, -13.05, -12.88, -12.7, -12.41, -12.65, -12.88,
           -12.98, -12.95, -12.75, -12.55, -12.26, -12.5, -12.8, -12.94, -12.88, -12.68,
           -12.48, -12.18, -12.42, -12.72, -12.85, -12.78, -12.6, -12.38, -12.05, -12.3,
           -12.6, -12.74, -12.7, -12.55, -12.32, -12.0, -12.25, -12.55, -12.67, -12.62,
           -12.45, -12.22, -11.9, -12.15, -12.48, -12.62, -12.58, -12.42, -12.15, -11.82,
           -12.1, -12.42, -12.55, -12.5, -12.3, -12.05, -11.78]

mars_t = [0.55, 0.67, 0.8, 1.0, 1.5, 2.0, 2.4, 2.6, 2.76, 2.95, 3.1, 3.5, 3.9, 4.3, 4.6,
          4.83, 5.0, 5.2, 5.7, 6.2, 6.5, 6.75, 6.92, 7.1, 7.6, 8.1, 8.4, 8.75, 9.06, 9.35,
          9.7, 10.0, 10.4, 10.8, 11.27, 11.6, 12.2, 12.6, 13.0, 13.42, 13.8, 14.2, 14.9,
          15.25, 15.53, 15.85, 16.3, 16.8, 17.2, 17.61, 17.95, 18.4, 19.1, 19.4, 19.72, 20.0]
mars_v = [-15.05, -14.86, -14.88, -14.92, -14.53, -14.17, -13.96, -13.85, -13.77, -13.85,
          -13.9, -13.85, -13.78, -13.62, -13.45, -13.27, -13.35, -13.43, -13.43, -13.45,
          -13.3, -13.05, -12.9, -12.98, -13.17, -13.26, -13.15, -12.85, -12.58, -12.85,
          -13.05, -13.11, -12.95, -12.65, -12.35, -12.65, -12.95, -12.9, -12.7, -12.33,
          -12.62, -12.8, -12.69, -12.5, -12.31, -12.6, -12.71, -12.65, -12.55, -12.26,
          -12.48, -12.55, -12.55, -12.4, -12.18, -12.25]

jupiter_t = [1.15, 1.22, 1.71, 2.08, 2.76, 3.18, 3.8, 4.29, 4.84, 5.33, 5.94, 6.43, 6.92,
             7.54, 8.09, 8.58, 9.25, 9.74, 10.29, 10.78, 11.46, 11.89, 12.5, 12.99, 13.6,
             14.09, 14.64, 15.13, 15.75, 16.24, 16.79, 17.34, 17.83, 18.38, 18.93, 19.42,
             19.91, 20.0]
jupiter_v = [-15.1, -14.99, -14.53, -14.62, -14.0, -14.05, -13.72, -13.82, -13.54, -13.65,
             -13.38, -13.47, -13.22, -13.29, -13.03, -13.12, -12.87, -12.96, -12.78, -12.85,
             -12.73, -12.85, -12.71, -12.82, -12.71, -12.83, -12.71, -12.83, -12.69, -12.80,
             -12.65, -12.74, -12.62, -12.71, -12.53, -12.64, -12.48, -12.46]

saturn_t = [1.1, 1.2, 1.65, 2.14, 2.57, 3.0, 3.49, 3.98, 4.53, 5.02, 5.57, 6.07, 6.62, 7.1,
            7.66, 8.15, 8.7, 9.19, 9.68, 10.2, 10.66, 11.21, 11.7, 12.25, 12.74, 13.29,
            13.79, 14.28, 14.76, 15.32, 15.81, 16.3, 16.85, 17.34, 17.83, 18.38, 18.93,
            19.42, 19.91, 20.0]
saturn_v = [-15.1, -15.02, -14.81, -14.71, -14.5, -14.43, -14.21, -14.2, -14.02, -14.04,
            -13.84, -13.89, -13.7, -13.77, -13.56, -13.65, -13.47, -13.56, -13.36, -13.47,
            -13.29, -13.4, -13.22, -13.33, -13.14, -13.26, -13.08, -13.19, -13.02, -13.12,
            -12.97, -13.08, -12.94, -13.05, -12.89, -12.99, -12.85, -12.96, -12.8, -12.79]


def style_axes(ax, lo, hi):
    ax.set_yscale('log')
    ax.set_xlim(0, 20)
    ax.set_ylim(10.0 ** lo, 10.0 ** hi)
    ax.set_xticks([0, 5, 10, 15, 20])
    ax.yaxis.set_major_locator(matplotlib.ticker.LogLocator(base=10, numticks=20))
    ax.grid(True, which='major', color='#b0b0b0', lw=1.0)
    ax.tick_params(which='both', direction='in', top=True, right=True, labelsize=16)
    ax.tick_params(which='major', length=6, width=1.0)
    ax.tick_params(which='minor', length=3.5, width=0.8)
    for s in ax.spines.values():
        s.set_linewidth(1.2)
    ax.set_xlabel(r'$t\ [\mathrm{yr}]$', fontsize=16)
    ax.set_ylabel(r'$|\delta\mathbf{r}|/r$', fontsize=16)


def pw(v):
    return 10.0 ** np.asarray(v)


fig = plt.figure(figsize=(13.44, 4.53), dpi=100)
ax1 = fig.add_axes([0.0714, 0.1375, 0.4040, 0.8316])
ax2 = fig.add_axes([0.5742, 0.1375, 0.4048, 0.8316])

for run in blue_runs:
    ax1.plot(grid_t, pw(run), color='C0', lw=0.7)
ax1.plot(red_t, pw(red_v), color='C3', lw=2.2, solid_joinstyle='round')
ax1.plot(green_t, pw(green_v), color='C2', lw=2.0)
ax1.plot(orange_t, pw(orange_v), color='C1', lw=2.0)
ax1.plot(dotted_t, pw(dotted_v), color='k', lw=2.5, ls=':')
ax1.plot(dashed_t, pw(dashed_v), color='k', lw=2.5, ls='--')
style_axes(ax1, -16, -10)

# Mercury: interleave minima and maxima
merc_v = np.empty(len(mercury_lo) + len(mercury_hi))
merc_v[0::2] = mercury_lo
merc_v[1::2] = mercury_hi
merc_t = mercury_t0 + mercury_step * np.arange(len(merc_v))

kw = dict(lw=2.3, solid_joinstyle='round')
ax2.plot(merc_t, pw(merc_v), color='C0', lw=3.2, solid_joinstyle='round', label='Mercury')
ax2.plot(venus_t, pw(venus_v), color='C1', label='Venus', **kw)
ax2.plot(mars_t, pw(mars_v), color='C2', label='Mars', **kw)
ax2.plot(jupiter_t, pw(jupiter_v), color='C3', label='Jupiter', **kw)
ax2.plot(saturn_t, pw(saturn_v), color='C4', label='Saturn', **kw)
style_axes(ax2, -15, -11)
ax2.legend(loc='upper left', fontsize=16, handlelength=2.3, handletextpad=0.8,
           labelspacing=0.6, framealpha=0.8)

fig.savefig('out.png', dpi=100)
